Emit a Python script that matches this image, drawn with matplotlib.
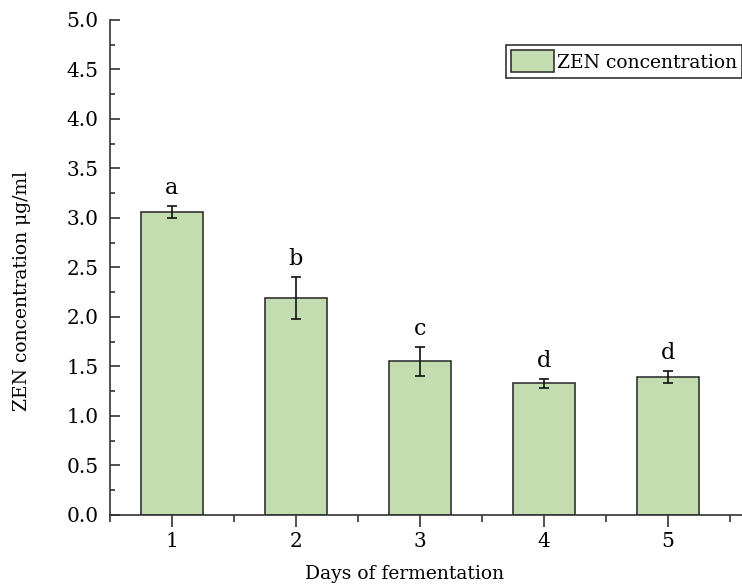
import matplotlib
matplotlib.use("Agg")
import matplotlib.pyplot as plt
from matplotlib.ticker import MultipleLocator

plt.rcParams['font.family'] = ['DejaVu Serif']

days = [1, 2, 3, 4, 5]
zen = [3.06, 2.19, 1.55, 1.33, 1.39]
zen_err = [0.06, 0.21, 0.15, 0.045, 0.06]
groups = ['a', 'b', 'c', 'd', 'd']

fig = plt.figure(figsize=(7.42, 5.85), dpi=100)
ax = fig.add_axes([0.148, 0.12, 0.852, 0.846])

ax.bar(days, zen, width=0.5, color='#c3ddb0', edgecolor='#333333',
       linewidth=1.2, label='ZEN concentration', zorder=2)
ax.errorbar(days, zen, yerr=zen_err, fmt='none', ecolor='#111111',
            elinewidth=1.2, capsize=3.3, capthick=1.2, zorder=3)

# significance letters above each error bar
for x, y, e, g in zip(days, zen, zen_err, groups):
    ax.text(x, y + e + 0.07, g, ha='center', va='bottom', fontsize=16)

ax.set_xlim(0.5, 5.6)
ax.set_ylim(0, 5.0)
ax.set_xticks(days)
ax.xaxis.set_minor_locator(MultipleLocator(0.5))
ax.yaxis.set_major_locator(MultipleLocator(0.5))
ax.yaxis.set_minor_locator(MultipleLocator(0.25))
ax.yaxis.set_major_formatter(plt.FormatStrFormatter('%.1f'))

ax.spines['top'].set_visible(False)
ax.spines['right'].set_visible(False)
for s in ('left', 'bottom'):
    ax.spines[s].set_linewidth(1.2)
    ax.spines[s].set_color('#333333')

ax.tick_params(axis='y', which='major', direction='in', length=7, width=1.2,
               pad=8, labelsize=14.5, color='#333333')
ax.tick_params(axis='y', which='minor', direction='in', length=3.6, width=1.2,
               color='#333333')
ax.tick_params(axis='x', which='major', direction='out', length=8.5, width=1.2,
               pad=4, labelsize=14.5, color='#333333')
ax.tick_params(axis='x', which='minor', direction='out', length=5, width=1.2,
               color='#333333')

ax.set_ylabel('ZEN concentration μg/ml', fontsize=13.5)
ax.set_xlabel('Days of fermentation', fontsize=13.5)
ax.yaxis.set_label_coords(-0.125, 0.4525)
ax.xaxis.set_label_coords(0.467, -0.102)

leg = ax.legend(loc='upper left', bbox_to_anchor=(0.627, 0.949),
                borderaxespad=0, fontsize=13.5, fancybox=False, framealpha=1,
                edgecolor='#333333', handlelength=2.3, handleheight=1.45,
                handletextpad=0.15, borderpad=0.27)
leg.get_frame().set_linewidth(1.2)

fig.savefig('out.png', dpi=100)
